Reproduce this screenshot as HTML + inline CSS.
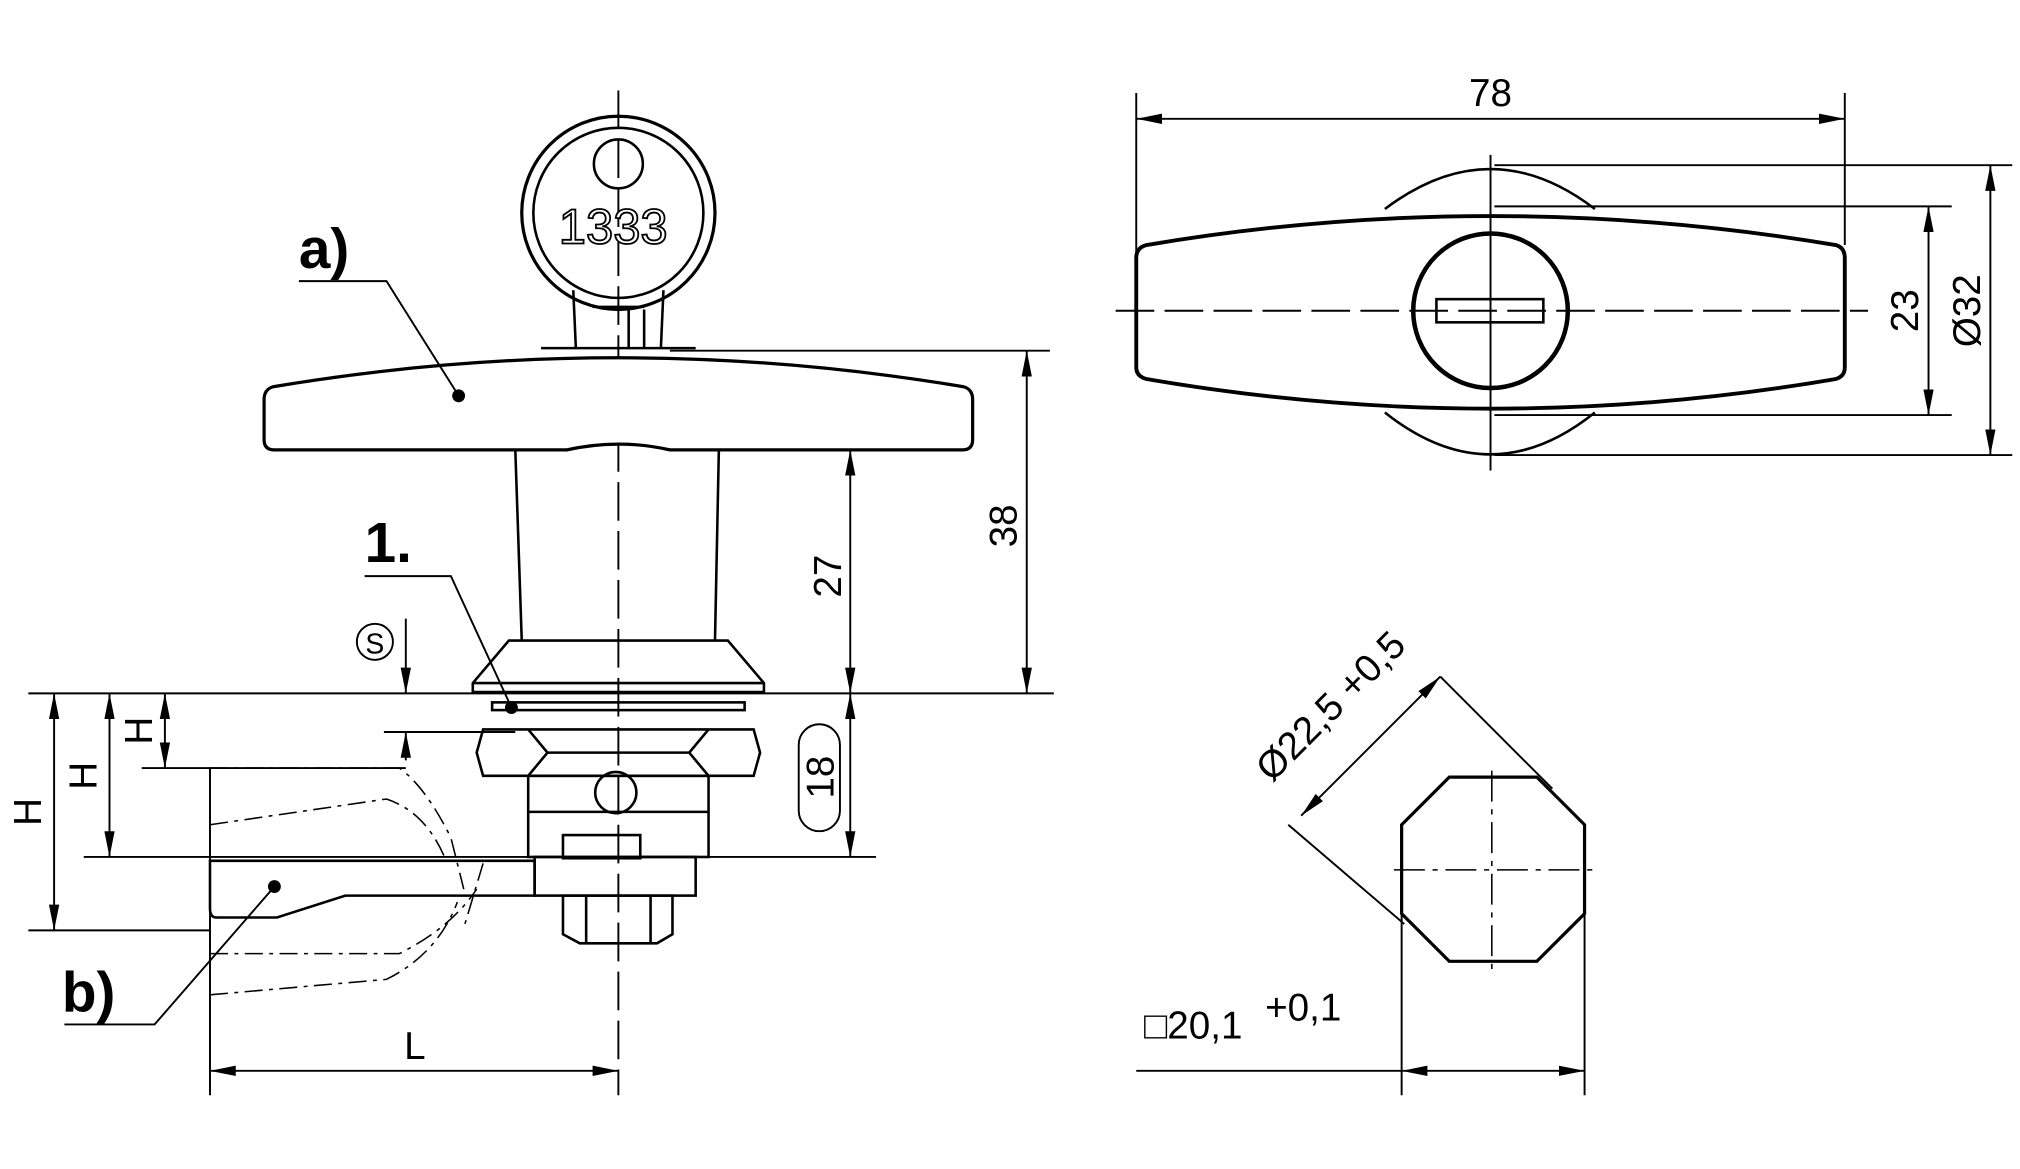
<!DOCTYPE html>
<html><head><meta charset="utf-8"><style>html,body{margin:0;padding:0;background:#fff}svg{display:block}</style></head><body>
<svg width="2020" height="1169" viewBox="0 0 1568 907" xmlns="http://www.w3.org/2000/svg" font-family="Liberation Sans, sans-serif">
<defs>
<marker id="a" viewBox="0 0 20 8" refX="20" refY="4" markerWidth="20" markerHeight="8" orient="auto-start-reverse" markerUnits="userSpaceOnUse"><path d="M0,0 L20,4 L0,8 z" fill="#000"/></marker>
</defs>
<g fill="none" stroke="#000" stroke-width="2">
<line x1="480" y1="70" x2="480" y2="850" stroke-width="1.5" stroke-dasharray="30,8"/>
<circle cx="480" cy="165" r="75" stroke-width="2.5"/>
<circle cx="480" cy="165" r="66"/>
<circle cx="480" cy="127" r="19"/>
<path d="M445,225 L447,270 M515,225 L513,270 M488,240 L488,270 M500,240 L500,270 M460,238 L500,238"/>
<line x1="420" y1="270" x2="540" y2="270"/>
<path d="M212,300 Q480,255 748,300 Q755,302 755,310 L755,341 Q755,349 747,349 L520,349 Q480,340 440,349 L213,349 Q205,349 205,341 L205,310 Q205,302 212,300 z" stroke-width="2.5" fill="#fff"/>
<path d="M400,349 L405,497 M558,349 L555,497"/>
<path d="M395,497 L565,497 L593,530 L593,537 L367,537 L367,530 z M367,530 L593,530"/>
<rect x="382" y="545" width="196" height="6"/>
<path d="M375,566 L585,566 L590,584 L585,602 L375,602 L370,584 z M410,566 L425,584 L410,602 M550,566 L535,584 L550,602 M425,584 L535,584" />
<rect x="410" y="602" width="140" height="63"/>
<line x1="410" y1="630" x2="550" y2="630"/>
<circle cx="478" cy="615" r="16"/>
<rect x="437" y="648" width="60" height="18"/>
<path d="M163,668 L415,668 L415,695 L268,695 L215,712 L168,712 Q163,712 163,705 z"/>
<rect x="415" y="665" width="125" height="30"/>
<path d="M437,695 L522,695 L522,725 L510,732 L450,732 L437,725 z M455,695 L455,732 M505,695 L505,732"/>
<g stroke-width="1.2" stroke-dasharray="14,5,3,5">
<path d="M163,596 L163,640 M163,596 L310,596 Q330,610 350,650 L360,690 M163,640 L300,620 Q330,630 345,665"/>
<path d="M163,722 L163,772 M163,772 L300,760 Q340,740 355,700 M163,740 L310,740 Q350,720 370,690 M375,670 L360,720"/>
</g>
<g stroke-width="1.5">
<line x1="22" y1="538" x2="818" y2="538"/>
<line x1="65" y1="665" x2="680" y2="665"/>
<line x1="22" y1="722" x2="163" y2="722"/>
<line x1="298" y1="568" x2="400" y2="568"/>
<line x1="110" y1="596" x2="315" y2="596"/>
<line x1="520" y1="272" x2="815" y2="272"/>
<line x1="163" y1="596" x2="163" y2="850"/>
<line x1="42" y1="538" x2="42" y2="722" marker-start="url(#a)" marker-end="url(#a)"/>
<line x1="85" y1="538" x2="85" y2="665" marker-start="url(#a)" marker-end="url(#a)"/>
<line x1="128" y1="538" x2="128" y2="596" marker-start="url(#a)" marker-end="url(#a)"/>
<line x1="315" y1="480" x2="315" y2="538" marker-end="url(#a)"/>
<line x1="315" y1="590" x2="315" y2="568" marker-end="url(#a)"/>
<line x1="660" y1="349" x2="660" y2="538" marker-start="url(#a)" marker-end="url(#a)"/>
<line x1="660" y1="538" x2="660" y2="665" marker-start="url(#a)" marker-end="url(#a)"/>
<line x1="797" y1="272" x2="797" y2="538" marker-start="url(#a)" marker-end="url(#a)"/>
<line x1="163" y1="831" x2="480" y2="831" marker-start="url(#a)" marker-end="url(#a)"/>
<rect x="620" y="562" width="32" height="83" rx="16"/>
<circle cx="291" cy="498" r="14"/>
<path d="M232,218 L300,218 L356,307 M283,447 L350,447 L397,549 M50,795 L120,795 L213,688"/>
</g>
<path d="M1075,162 Q1157,100 1238,162 M1075,320 Q1157,385 1238,320"/>
<path d="M890,190 Q1157,145 1425,190 Q1432,192 1432,200 L1432,285 Q1432,292 1425,294 Q1157,340 890,294 Q882,292 882,285 L882,200 Q882,192 890,190 z" stroke-width="3" fill="#fff"/>
<circle cx="1157" cy="241" r="60" stroke-width="3.5"/>
<rect x="1115" y="232" width="83" height="18"/>
<line x1="1157" y1="120" x2="1157" y2="365" stroke-width="1.5"/>
<line x1="866" y1="241" x2="1450" y2="241" stroke-width="1.5" stroke-dasharray="30,8"/>
<g stroke-width="1.5">
<line x1="882" y1="72" x2="882" y2="200"/>
<line x1="1432" y1="72" x2="1432" y2="190"/>
<line x1="882" y1="92" x2="1432" y2="92" marker-start="url(#a)" marker-end="url(#a)"/>
<line x1="1160" y1="128" x2="1562" y2="128"/>
<line x1="1160" y1="353" x2="1562" y2="353"/>
<line x1="1160" y1="160" x2="1515" y2="160"/>
<line x1="1160" y1="322" x2="1515" y2="322"/>
<line x1="1545" y1="128" x2="1545" y2="353" marker-start="url(#a)" marker-end="url(#a)"/>
<line x1="1497" y1="160" x2="1497" y2="322" marker-start="url(#a)" marker-end="url(#a)"/>
</g>
<path d="M1125,603 L1193,603 L1230,640 L1230,709 L1193,746 L1125,746 L1088,709 L1088,640 z" stroke-width="2.5"/>
<g stroke-width="1.2" stroke-dasharray="24,6,4,6">
<line x1="1158" y1="598" x2="1158" y2="752"/>
<line x1="1082" y1="675" x2="1236" y2="675"/>
</g>
<g stroke-width="1.5">
<line x1="1000" y1="640" x2="1090" y2="717"/>
<line x1="1118" y1="525" x2="1205" y2="612"/>
<line x1="1010" y1="633" x2="1118" y2="525" marker-start="url(#a)" marker-end="url(#a)"/>
<line x1="1088" y1="690" x2="1088" y2="850"/>
<line x1="1230" y1="690" x2="1230" y2="850"/>
<line x1="882" y1="831" x2="1088" y2="831"/>
<line x1="1088" y1="831" x2="1230" y2="831" marker-start="url(#a)" marker-end="url(#a)"/>
</g>
</g>
<g fill="#000">
<circle cx="356" cy="307" r="5"/><circle cx="397" cy="549" r="5"/><circle cx="213" cy="688" r="5"/>
</g>
<g font-size="30" fill="#000">
<text x="476" y="189" text-anchor="middle" font-size="38" fill="#fff" stroke="#000" stroke-width="1.4">1333</text>
<text x="232" y="208" font-size="44" font-weight="bold">a)</text>
<text x="283" y="436" font-size="44" font-weight="bold">1.</text>
<text x="48" y="785" font-size="44" font-weight="bold">b)</text>
<text x="291" y="507" text-anchor="middle" font-size="22">S</text>
<text x="322" y="822" text-anchor="middle">L</text>
<text x="1157" y="82" text-anchor="middle">78</text>
<text transform="translate(32,630) rotate(-90)" text-anchor="middle">H</text>
<text transform="translate(75,602) rotate(-90)" text-anchor="middle">H</text>
<text transform="translate(118,567) rotate(-90)" text-anchor="middle">H</text>
<text transform="translate(653,447) rotate(-90)" text-anchor="middle">27</text>
<text transform="translate(789,408) rotate(-90)" text-anchor="middle">38</text>
<text transform="translate(647,603) rotate(-90)" text-anchor="middle">18</text>
<text transform="translate(1489,241) rotate(-90)" text-anchor="middle">23</text>
<text transform="translate(1537,241) rotate(-90)" text-anchor="middle">Ø32</text>
<text transform="translate(1040,555) rotate(-45)" text-anchor="middle">Ø22,5 +0,5</text>
<text x="888" y="806">□20,1</text>
<text x="982" y="792">+0,1</text>
</g>
</svg>
</body></html>
